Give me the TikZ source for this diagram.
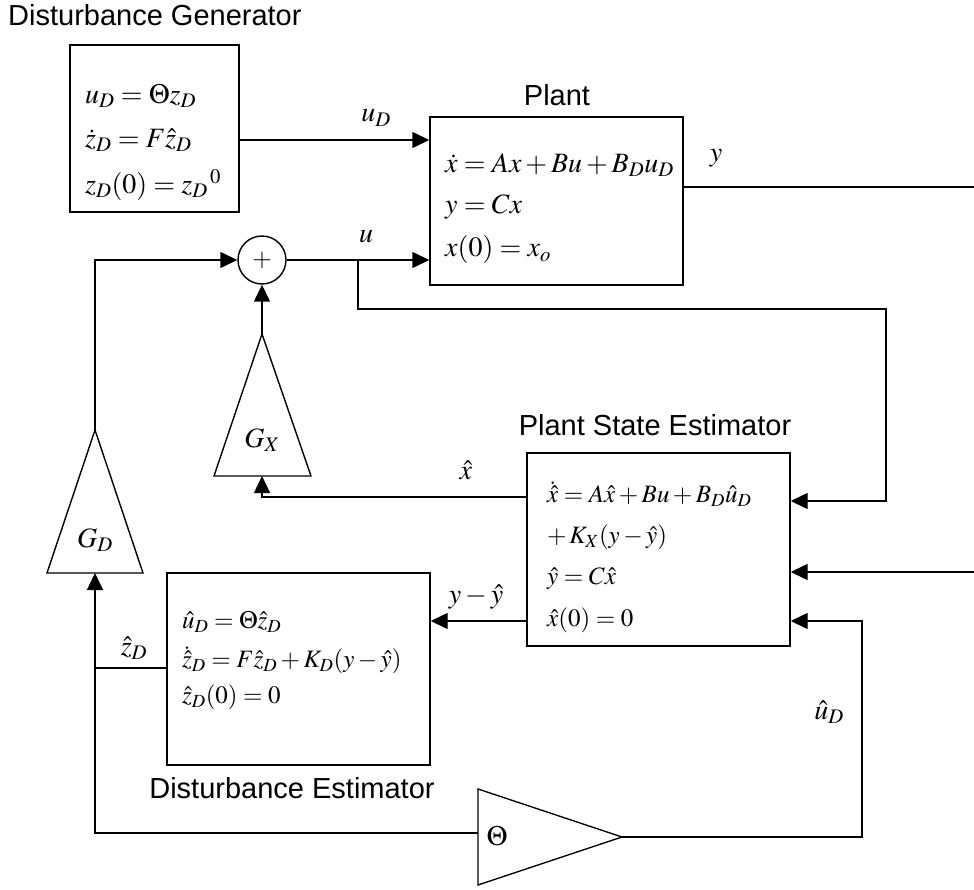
\documentclass[tikz,border=0pt]{standalone}
\usepackage{mathptmx}
\usepackage[no-math]{fontspec}
\setmainfont{Liberation Sans}
\usetikzlibrary{arrows.meta}
\tikzset{
  blk/.style={draw, line width=1.4pt, inner sep=0pt},
  wire/.style={line width=1.4pt},
  arr/.style={line width=1.4pt, -{Triangle[length=17pt,width=16pt]}},
  lbl/.style={font=\fontsize{29}{34}\selectfont, inner sep=0pt},
  eq/.style={font=\fontsize{28}{33}\selectfont, inner sep=0pt, anchor=west},
  eqs/.style={font=\fontsize{25}{30}\selectfont, inner sep=0pt, anchor=west},
  ml/.style={font=\fontsize{28}{33}\selectfont, inner sep=0pt},
}
\begin{document}
\begin{tikzpicture}[x=1pt,y=-1pt]
\useasboundingbox (0,0) rectangle (974,890);
% boxes
\node[blk, minimum width=169pt, minimum height=167pt] (dg) at (154.5,128.5) {};
\node[blk, minimum width=253pt, minimum height=168pt] (pl) at (556.5,201) {};
\node[blk, minimum width=263pt, minimum height=193pt] (pse) at (658.5,549.5) {};
\node[blk, minimum width=263pt, minimum height=192pt] (de) at (298.5,669) {};
\node[draw, circle, line width=1.4pt, minimum size=48pt, inner sep=0pt, font=\fontsize{25}{28}\selectfont] (sum) at (262,260) {$+$};
% titles
\node[lbl, anchor=west] (tdg) at (8,15) {Disturbance Generator};
\node[lbl] (tpl) at (557,95) {Plant};
\node[lbl] (tpse) at (655,425) {Plant State Estimator};
\node[lbl] (tde) at (292,788) {Disturbance Estimator};
% equations
\node[eq] (dg1) at (85,96) {$u_D = \Theta z_D$};
\node[eq] (dg2) at (85,140) {$\dot z_D = F\hat z_D$};
\node[eq] (dg3) at (85,185) {$z_D(0) = z_D{}^{\,0}$};
\node[eq] (pl1) at (445,165) {$\dot x = Ax + Bu + B_D u_D$};
\node[eq] (pl2) at (445,207) {$y = Cx$};
\node[eq] (pl3) at (445,250) {$x(0) = x_o$};
\node[eqs] (ps1) at (547,494) {$\dot{\hat x} = A\hat x + Bu + B_D\hat u_D$};
\node[eqs] (ps2) at (547,537) {$+\,K_X(y - \hat y)$};
\node[eqs] (ps3) at (547,579) {$\hat y = C\hat x$};
\node[eqs] (ps4) at (547,620) {$\hat x(0) = 0$};
\node[eqs] (de1) at (182,622) {$\hat u_D = \Theta\hat z_D$};
\node[eqs] (de2) at (182,660) {$\dot{\hat z}_D = F\hat z_D + K_D(y - \hat y)$};
\node[eqs] (de3) at (182,697) {$\hat z_D(0) = 0$};
% triangles
\coordinate (gxa) at (262,334);
\coordinate (gxb) at (262,476);
\draw[wire, line join=miter] (gxa) -- (311,476) -- (214,476) -- cycle;
\node[ml] (gxl) at (262,440) {$G_X$};
\coordinate (gda) at (95,430);
\coordinate (gdb) at (95,573);
\draw[wire, line join=miter] (gda) -- (143,573) -- (47,573) -- cycle;
\node[ml] (gdl) at (95,540) {$G_D$};
\coordinate (tha) at (622,837);
\coordinate (thb) at (478,833);
\draw[wire, line join=miter] (478,789) -- (tha) -- (478,885) -- cycle;
\node[ml] (thl) at (497,836) {$\Theta$};
% wire labels
\node[ml] (lud) at (376,118) {$u_D$};
\node[ml] (lu) at (366,237) {$u$};
\node[ml] (ly) at (716,158) {$y$};
\node[ml] (lxh) at (466,470) {$\hat x$};
\node[ml] (lyy) at (476,597) {$y - \hat y$};
\node[ml] (lzd) at (134,648) {$\hat z_D$};
\node[ml] (lud2) at (829,712) {$\hat u_D$};
% coordinates
\coordinate (ubr) at (358,260);
\coordinate (yend) at (974,187);
\coordinate (yin) at (974,572);
\coordinate (zbr) at (95,668);
% connectors
\draw[arr] (dg.east |- 0,140) -- (pl.west |- 0,140);
\draw[arr] (sum.east) -- (pl.west |- sum.east);
\draw[arr] (ubr) -- (358,309) -- (886,309) -- (886,501) -- (pse.east |- 0,501);
\draw[wire] (pl.east |- yend) -- (yend);
\draw[arr] (yin) -- (pse.east |- yin);
\draw[arr] (gxa) -- (sum.south);
\draw[arr] (pse.west |- 0,497) -- (262,497) -- (gxb);
\draw[arr] (pse.west |- 0,621) -- (de.east |- 0,621);
\draw[arr] (de.west |- zbr) -- (zbr) -- (gdb);
\draw[wire] (zbr) -- (95,833) -- (thb);
\draw[arr] (tha) -- (862,837) -- (862,621) -- (pse.east |- 0,621);
\draw[arr] (gda) -- (95,260) -- (sum.west);
\end{tikzpicture}
\end{document}
